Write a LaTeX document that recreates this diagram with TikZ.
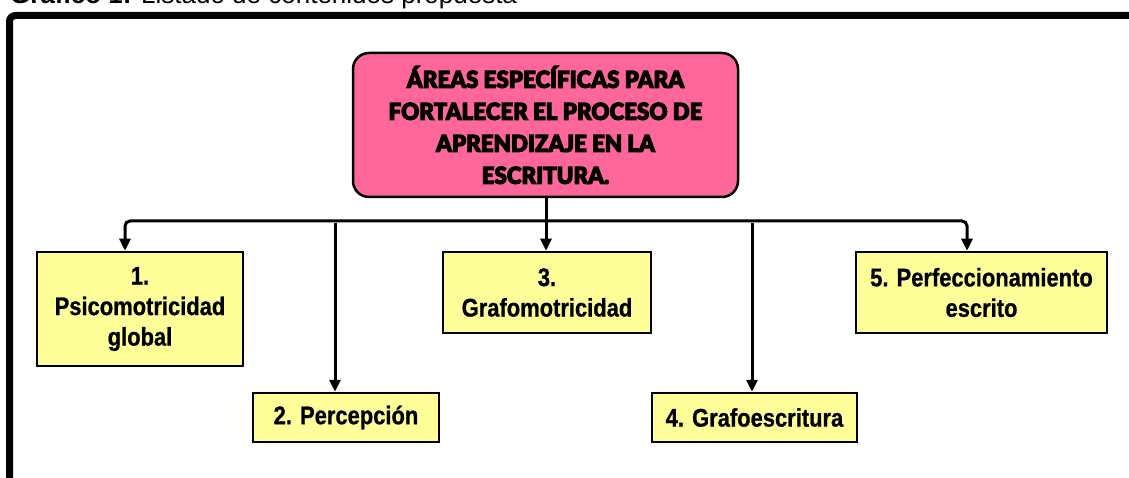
\documentclass[tikz,border=0pt]{standalone}
\usepackage{fontspec}
\setmainfont{Liberation Sans}
\newfontfamily\boxfont[FakeStretch=0.86,FakeBold=0.8]{Liberation Sans Bold}
\IfFontExistsTF{Lato Black}
  {\newfontfamily\titlefont[FakeStretch=0.95,FakeBold=4]{Lato Black}}
  {\newfontfamily\titlefont[FakeStretch=0.88,FakeBold=4]{Liberation Sans Bold}}
\usetikzlibrary{arrows.meta}
\definecolor{titlepink}{RGB}{255,102,153}
\definecolor{boxyellow}{RGB}{255,255,153}
\tikzset{
  titlebox/.style={draw=black, fill=titlepink, line width=2.5, rounded corners=16pt,
    align=center, inner sep=0pt, font=\titlefont\fontsize{23.5}{32}\selectfont},
  areabox/.style={draw=black, fill=boxyellow, line width=2.5, align=center, inner sep=0pt,
    font=\boxfont\fontsize{25.5}{30.5}\selectfont},
  conn/.style={line width=3, draw=black, -{Triangle[length=12pt,width=11pt]}},
  frameline/.style={line width=7, draw=black, rounded corners=6pt}
}
\begin{document}
\begin{tikzpicture}[x=1pt,y=-1pt]
\useasboundingbox (0,0) rectangle (1129,478);
\clip (0,0) rectangle (1129,478);
% caption (cut by the top edge, as in the reference)
\node[anchor=base west, inner sep=0pt, font=\fontsize{26}{30}\selectfont] (cap) at (10,4)
  {\textbf{Gráfico 1:} Listado de contenidos propuesta};
% frame
\draw[frameline] (9.5,500) -- (9.5,15.5) -- (1150,15.5);
% nodes
\node[titlebox, minimum width=385, minimum height=144] (t) at (545.5,125)
  {ÁREAS ESPECÍFICAS PARA\\FORTALECER EL PROCESO DE\\APRENDIZAJE EN LA\\ESCRITURA.};
\node[areabox, minimum width=206, minimum height=114] (b1) at (140,309)
  {1.\\Psicomotricidad\\global};
\node[areabox, minimum width=186, minimum height=49] (b2) at (346,417.5)
  {2. Percepción};
\node[areabox, minimum width=208, minimum height=81] (b3) at (547,292.5)
  {3.\\Grafomotricidad};
\node[areabox, minimum width=205, minimum height=49] (b4) at (754.5,417.5)
  {4. Grafoescritura};
\node[areabox, minimum width=251, minimum height=81] (b5) at (981.5,292.5)
  {5. Perfeccionamiento\\escrito};
% connectors
\coordinate (j) at (546,221);
\draw[conn] (t.south -| j) -- (j |- b3.north);
\draw[conn, {Triangle[length=12pt,width=11pt]}-{Triangle[length=12pt,width=11pt]}, rounded corners=5pt]
  (125,0 |- b1.north) |- (j) -| (967,0 |- b5.north);
\coordinate (s2) at (335,223);
\coordinate (s4) at (752,223);
\draw[conn] (s2) -- (s2 |- b2.north);
\draw[conn] (s4) -- (s4 |- b4.north);
\end{tikzpicture}
\end{document}
